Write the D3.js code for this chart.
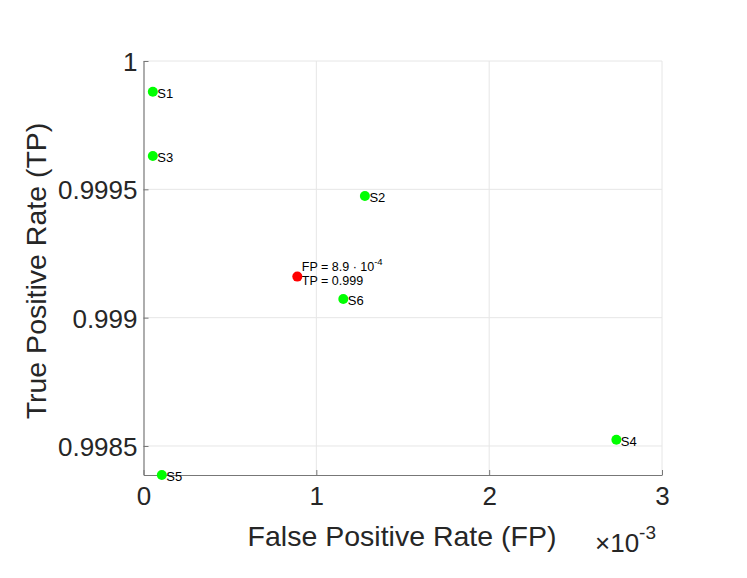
<!DOCTYPE html>
<html>
<head>
<meta charset="utf-8">
<script src="https://cdn.jsdelivr.net/npm/d3@7"></script>
<style>
html,body{margin:0;padding:0;background:#fff;}
svg{display:block;font-family:"Liberation Sans",Arial,sans-serif;}
</style>
</head>
<body>
<svg id="chart" width="747" height="578"></svg>
<script>
// Data (FP in units of 1e-3)
const names = ["S1","S2","S3","S4","S5","S6"];
const fpValues = [0.054, 1.281, 0.054, 2.736, 0.106, 1.156];
const tpValues = [0.99988, 0.999474, 0.99963, 0.998524, 0.998387, 0.999073];
const optimum = {fp: 0.89, tp: 0.99916};
const optimumLines = ["FP = 8.9 · 10", "TP = 0.999"];
const xTicks = [0, 1, 2, 3];
const yTicks = [0.9985, 0.999, 0.9995, 1];
const yTickLabels = ["0.9985", "0.999", "0.9995", "1"];

(function () {
const svg = d3.select("#chart");
const pl = 143.5, pr = 662, pt = 61, pb = 475;
const x = d3.scaleLinear().domain([0, 3]).range([pl, pr]);
const y = d3.scaleLinear().domain([0.998387, 1]).range([pb, pt]);

const textColor = "#262626";
const gridColor = "#e6e6e6";
const axisColor = "#777";

// grid
svg.append("g").selectAll("line").data(xTicks.slice(1)).join("line")
  .attr("x1", d => x(d)).attr("x2", d => x(d)).attr("y1", pt).attr("y2", pb)
  .attr("stroke", gridColor).attr("stroke-width", 1);
svg.append("g").selectAll("line").data(yTicks).join("line")
  .attr("x1", pl).attr("x2", pr).attr("y1", d => y(d)).attr("y2", d => y(d))
  .attr("stroke", gridColor).attr("stroke-width", 1);

// axes (MATLAB-like, inward ticks)
const xAxis = d3.axisBottom(x).tickValues(xTicks).tickSize(-5).tickSizeOuter(0).tickPadding(12)
  .tickFormat(d3.format("d"));
const gx = svg.append("g").attr("transform", `translate(0,${pb})`).call(xAxis);
const yAxis = d3.axisLeft(y).tickValues(yTicks).tickSize(-5).tickSizeOuter(0).tickPadding(6)
  .tickFormat((d, i) => yTickLabels[i]);
const gy = svg.append("g").attr("transform", `translate(${pl},0)`).call(yAxis);
[gx, gy].forEach(g => {
  g.select(".domain").attr("stroke", axisColor).attr("stroke-width", 1.2);
  g.selectAll(".tick line").attr("stroke", axisColor).attr("stroke-width", 1);
  g.selectAll(".tick text").attr("fill", textColor)
    .style("font-family", '"Liberation Sans",Arial,sans-serif').style("font-size", "26px");
});
gx.selectAll(".tick text").attr("dy", "0.71em");
gy.selectAll(".tick text").attr("dy", "0.36em");

// exponent label
const ex = svg.append("text").attr("x", 595).attr("y", 552).attr("fill", textColor)
  .style("font-size", "26px");
ex.append("tspan").text("×10");
ex.append("tspan").attr("dy", -13).style("font-size", "19px").text("-3");

// axis titles
svg.append("text").attr("x", 402).attr("y", 546).attr("text-anchor", "middle")
  .attr("fill", textColor).style("font-size", "28.5px").text("False Positive Rate (FP)");
svg.append("text").attr("transform", "translate(46,271) rotate(-90)").attr("text-anchor", "middle")
  .attr("fill", textColor).style("font-size", "28.5px").text("True Positive Rate (TP)");

// points
const pts = names.map((n, i) => ({n, fp: fpValues[i], tp: tpValues[i]}));
svg.append("g").selectAll("circle").data(pts).join("circle")
  .attr("cx", d => x(d.fp)).attr("cy", d => y(d.tp)).attr("r", 5).attr("fill", "#00ff00");
svg.append("g").selectAll("text").data(pts).join("text")
  .attr("x", d => x(d.fp) + 4.5).attr("y", d => y(d.tp) + 6)
  .attr("fill", "#000").style("font-size", "13px").text(d => d.n);

// optimum point
svg.append("circle").attr("cx", x(optimum.fp)).attr("cy", y(optimum.tp)).attr("r", 5).attr("fill", "#ff0000");
const t1 = svg.append("text").attr("x", x(optimum.fp) + 4.5).attr("y", y(optimum.tp) - 6)
  .attr("fill", "#000").style("font-size", "12.5px");
t1.append("tspan").text(optimumLines[0]);
t1.append("tspan").attr("dy", -6).style("font-size", "9.5px").text("-4");
svg.append("text").attr("x", x(optimum.fp) + 4.5).attr("y", y(optimum.tp) + 8)
  .attr("fill", "#000").style("font-size", "12.5px").text(optimumLines[1]);
})();
</script>
</body>
</html>
